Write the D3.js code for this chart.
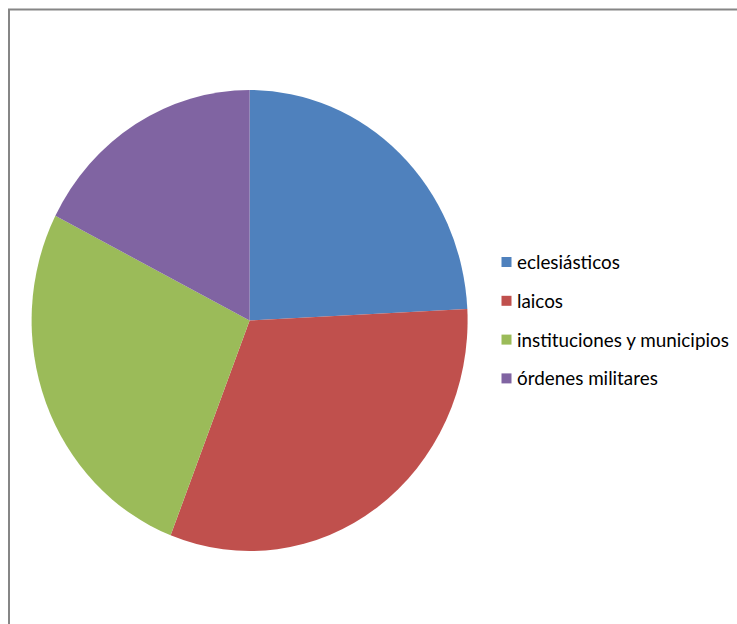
<!DOCTYPE html>
<html>
<head>
<meta charset="utf-8">
<script src="https://cdn.jsdelivr.net/npm/d3@7"></script>
<style>
  body { margin: 0; background: #fff; }
  svg { display: block; }
</style>
</head>
<body>
<svg id="chart"></svg>
<script>
var categories = ["eclesiásticos", "laicos", "instituciones y municipios", "órdenes militares"];
var values = [24.2, 31.7, 26.6, 17.5];
var colors = ["#4F81BD", "#C0504D", "#9BBB59", "#8064A2"];

function renderPie(svg) {
  let width = 737;
  let height = 624;
  let cx = 249.6, cy = 320.5;
  let ry = 230.5;
  let rx = 218;

  svg.attr("width", width).attr("height", height)
    .attr("viewBox", [0, 0, width, height]);

  // chart area border (runs off the right/bottom edge)
  svg.append("path")
    .attr("d", `M9,${height + 5} V9.5 H${width + 5}`)
    .attr("fill", "none")
    .attr("stroke", "#868686")
    .attr("stroke-width", 2);

  let pie = d3.pie().sort(null).value(d => d.value);
  let arc = d3.arc().innerRadius(0).outerRadius(ry);
  let data = categories.map((c, i) => ({ name: c, value: values[i] }));

  // the picture is slightly squashed horizontally, so scale x
  svg.append("g")
    .attr("transform", `translate(${cx}, ${cy}) scale(${rx / ry}, 1)`)
    .selectAll("path")
    .data(pie(data))
    .join("path")
    .attr("fill", (d, i) => colors[i])
    .attr("d", arc);

  let legend = svg.append("g")
    .attr("transform", "translate(501.5, 257)");

  let row = legend.selectAll("g")
    .data(categories)
    .join("g")
    .attr("transform", (d, i) => `translate(0, ${i * 38.8})`);

  row.append("rect")
    .attr("width", 10)
    .attr("height", 10)
    .attr("fill", (d, i) => colors[i]);

  let labels = row.append("text")
    .attr("x", 15.5)
    .attr("y", 12)
    .attr("font-family", "Lato, 'Open Sans', sans-serif")
    .attr("font-size", 17)
    .attr("fill", "#000")
    .text(d => d);

  // fit the longest label to its width in the reference
  let longest = labels.filter((d, i) => i === 2).node();
  let w = longest.getComputedTextLength();
  labels.attr("font-size", 17 * 212 / w);
}

renderPie(d3.select("#chart"));
</script>
</body>
</html>
